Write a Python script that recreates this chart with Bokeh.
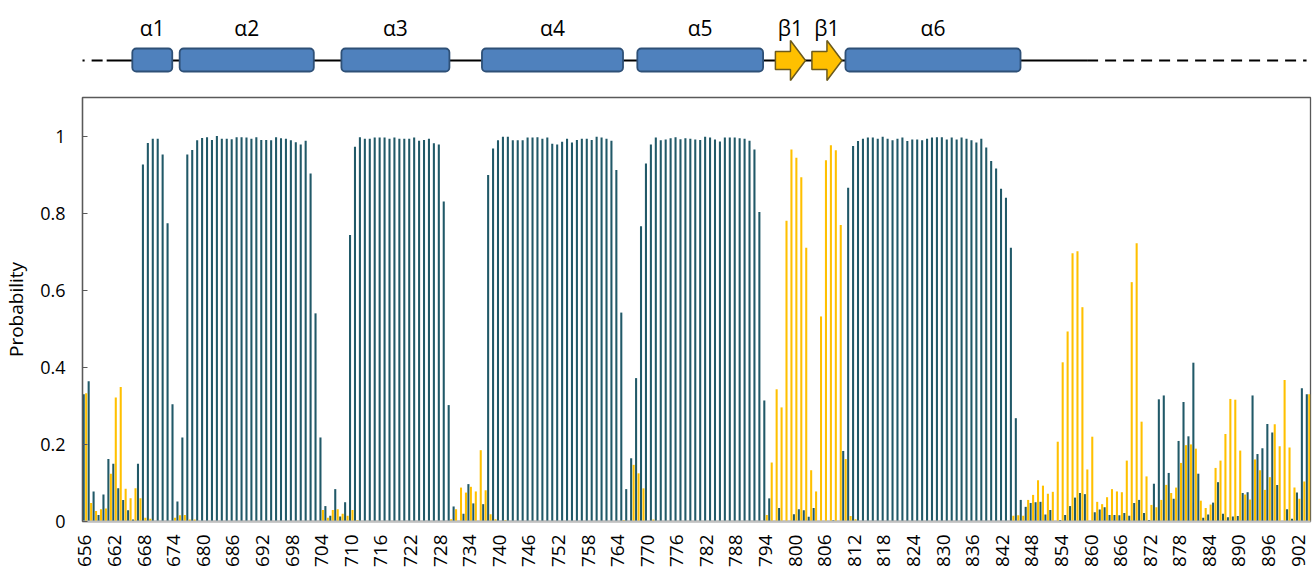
from math import pi
from bokeh.plotting import figure
from bokeh.models import Range1d, FixedTicker, ColumnDataSource
from bokeh.layouts import column
from bokeh.transform import dodge
from bokeh.embed import file_html
from bokeh.resources import INLINE
from bokeh.core.properties import value

# ---------------- data ----------------
residues = list(range(656, 905))

helix = [
    # 656-667
    0.33, 0.364, 0.078, 0.017, 0.07, 0.162, 0.15, 0.086, 0.056, 0.029, 0.005, 0.15,
    # 668-678
    0.926, 0.982, 0.993, 0.993, 0.952, 0.774, 0.304, 0.052, 0.218, 0.952, 0.964,
    # 679-701
    0.989, 0.995, 0.997, 0.99, 1.0, 0.993, 0.993, 0.992, 0.997, 0.997, 0.996, 0.993,
    0.997, 0.99, 0.99, 0.989, 0.997, 0.994, 0.993, 0.989, 0.984, 0.978, 0.988,
    # 702-709
    0.903, 0.54, 0.218, 0.04, 0.015, 0.084, 0.013, 0.05,
    # 710-730
    0.743, 0.972, 0.997, 0.993, 0.993, 0.996, 0.996, 0.996, 0.993, 0.996, 0.993,
    0.993, 0.993, 0.996, 0.988, 0.99, 0.993, 0.981, 0.978, 0.83, 0.302,
    # 731-737
    0.039, 0.0, 0.02, 0.097, 0.047, 0.0, 0.045,
    # 738-765
    0.899, 0.968, 0.989, 0.998, 0.998, 0.989, 0.989, 0.989, 0.996, 0.996, 0.997, 0.993,
    0.996, 0.98, 0.978, 0.985, 0.993, 0.983, 0.99, 0.993, 0.993, 0.99, 0.998, 0.996,
    0.993, 0.988, 0.912, 0.542,
    # 766-771
    0.084, 0.164, 0.372, 0.766, 0.929, 0.978,
    # 772-791
    0.996, 0.989, 0.991, 0.994, 0.997, 0.992, 0.994, 0.993, 0.991, 0.99,
    0.998, 0.996, 0.991, 0.986, 0.996, 0.996, 0.996, 0.994, 0.993, 0.988,
    # 792-810
    0.965, 0.803, 0.314, 0.06, 0.0, 0.035, 0.0, 0.0, 0.019, 0.032, 0.029, 0.012,
    0.035, 0.0, 0.0, 0.0, 0.003, 0.0, 0.183,
    # 811-845
    0.866, 0.974, 0.987, 0.993, 0.996, 0.996, 0.993, 0.998, 0.993, 0.989, 0.993, 0.996,
    0.987, 0.991, 0.991, 0.989, 0.993, 0.996, 0.997, 0.997, 0.991, 0.996, 0.991, 0.996,
    0.993, 0.989, 0.983, 0.993, 0.97, 0.935, 0.916, 0.863, 0.84, 0.71, 0.268,
    # 846-904
    0.056, 0.038, 0.048, 0.05, 0.051, 0.018, 0.03, 0.0, 0.004, 0.017, 0.04, 0.062,
    0.074, 0.071, 0.0, 0.024, 0.031, 0.037, 0.017, 0.017, 0.016, 0.022, 0.015, 0.048,
    0.056, 0.022, 0.004, 0.098, 0.317, 0.327, 0.126, 0.059, 0.209, 0.31, 0.221, 0.412,
    0.124, 0.01, 0.018, 0.049, 0.102, 0.02, 0.011, 0.013, 0.014, 0.074, 0.076, 0.327,
    0.175, 0.19, 0.253, 0.231, 0.095, 0.0, 0.032, 0.007, 0.075, 0.346, 0.33,
]

strand = [
    # 656-667
    0.333, 0.048, 0.027, 0.032, 0.034, 0.124, 0.322, 0.349, 0.085, 0.06, 0.086, 0.06,
    # 668-678
    0.01, 0.007, 0.0, 0.0, 0.0, 0.0, 0.01, 0.016, 0.017, 0.005, 0.005,
    # 679-701
    0.0, 0.0, 0.0, 0.0, 0.0, 0.0, 0.0, 0.0, 0.0, 0.0, 0.0, 0.0,
    0.0, 0.0, 0.0, 0.0, 0.0, 0.0, 0.0, 0.0, 0.0, 0.0, 0.0,
    # 702-709
    0.0, 0.0, 0.03, 0.01, 0.03, 0.032, 0.02, 0.015,
    # 710-730
    0.03, 0.003, 0.0, 0.0, 0.0, 0.0, 0.0, 0.0, 0.0, 0.0, 0.0,
    0.0, 0.0, 0.0, 0.0, 0.0, 0.0, 0.0, 0.0, 0.0, 0.006,
    # 731-737
    0.032, 0.088, 0.075, 0.09, 0.078, 0.185, 0.081,
    # 738-765
    0.019, 0.006, 0.0, 0.003, 0.0, 0.0, 0.0, 0.0, 0.0, 0.0, 0.0, 0.0,
    0.0, 0.0, 0.0, 0.0, 0.0, 0.0, 0.0, 0.0, 0.0, 0.0, 0.0, 0.0,
    0.0, 0.0, 0.0, 0.003,
    # 766-771
    0.0, 0.147, 0.125, 0.086, 0.0, 0.005,
    # 772-791
    0.0, 0.0, 0.0, 0.0, 0.0, 0.0, 0.0, 0.0, 0.0, 0.0,
    0.0, 0.0, 0.0, 0.0, 0.0, 0.0, 0.0, 0.0, 0.0, 0.0,
    # 792-810
    0.0, 0.0, 0.017, 0.153, 0.343, 0.296, 0.78, 0.965, 0.944, 0.893, 0.71, 0.133,
    0.078, 0.532, 0.937, 0.976, 0.963, 0.769, 0.162,
    # 811-845
    0.014, 0.006, 0.0, 0.0, 0.0, 0.0, 0.0, 0.0, 0.0, 0.0, 0.0, 0.0,
    0.0, 0.0, 0.0, 0.0, 0.0, 0.0, 0.0, 0.0, 0.0, 0.0, 0.0, 0.0,
    0.0, 0.0, 0.0, 0.0, 0.0, 0.0, 0.0, 0.0, 0.0, 0.015, 0.016,
    # 846-904
    0.015, 0.056, 0.069, 0.107, 0.093, 0.072, 0.077, 0.207, 0.413, 0.493, 0.696, 0.701,
    0.556, 0.135, 0.22, 0.051, 0.045, 0.063, 0.084, 0.078, 0.076, 0.158, 0.621, 0.722,
    0.259, 0.117, 0.043, 0.037, 0.056, 0.095, 0.074, 0.088, 0.152, 0.198, 0.2, 0.189,
    0.054, 0.035, 0.044, 0.139, 0.158, 0.227, 0.318, 0.316, 0.184, 0.07, 0.057, 0.161,
    0.133, 0.082, 0.115, 0.252, 0.195, 0.367, 0.192, 0.088, 0.059, 0.104, 0.33,
]

assert len(helix) == len(residues) and len(strand) == len(residues)

x_ticks = list(range(656, 903, 6))
y_ticks = [0, 0.2, 0.4, 0.6, 0.8, 1]
y_tick_labels = {0: "0", 0.2: "0.2", 0.4: "0.4", 0.6: "0.6", 0.8: "0.8", 1: "1"}

# secondary-structure topology (residue coordinates)
helix_names = ["α1", "α2", "α3", "α4", "α5", "α6"]
helix_starts = [665.6, 675.2, 708.0, 736.5, 768.0, 810.2]
helix_ends = [673.7, 702.4, 729.9, 765.1, 793.5, 845.7]
strand_names = ["β1", "β1"]
strand_starts = [796.0, 803.4]
strand_ends = [802.1, 809.5]
loop_solid = [(660.4, 859.2)]
loop_dashed = [(653.7, 660.4), (859.2, 903.7)]

# ---------------- style / layout ----------------
DARK = "#215968"
GOLD = "#FFC000"
FONT = "Open Sans"
W = 1313
LEFT, RIGHT = 82, 3
TOP_H, BOT_H = 90, 481
X0, X1 = 655.5, 904.5

# ---------------- main bar chart ----------------
src = ColumnDataSource(dict(res=residues, helix=helix, strand=strand))

p = figure(width=W, height=BOT_H, x_range=Range1d(X0, X1), y_range=Range1d(0, 1.1),
           output_backend="svg", toolbar_location=None,
           min_border_left=LEFT, min_border_right=RIGHT,
           min_border_top=7, min_border_bottom=50)
p.vbar(x=dodge("res", -0.25, range=p.x_range), top="helix", width=0.42,
       source=src, fill_color=DARK, line_color=None)
p.vbar(x=dodge("res", 0.25, range=p.x_range), top="strand", width=0.42,
       source=src, fill_color=GOLD, line_color=None)

p.xgrid.visible = False
p.ygrid.visible = False
p.outline_line_color = "#595959"
p.outline_line_width = 1.3
p.background_fill_color = "white"
p.border_fill_color = "white"

xa = p.xaxis[0]
xa.ticker = FixedTicker(ticks=x_ticks)
xa.major_label_orientation = pi / 2
xa.major_tick_line_color = None
xa.minor_tick_line_color = None
xa.axis_line_color = "#BFBFBF"
xa.axis_line_width = 2
xa.major_label_text_font = FONT
xa.major_label_text_font_size = "19px"
xa.major_label_text_color = "black"
xa.major_label_standoff = 7

ya = p.yaxis[0]
ya.ticker = FixedTicker(ticks=y_ticks)
ya.major_label_overrides = y_tick_labels
ya.major_tick_in = 5
ya.major_tick_out = 0
ya.major_tick_line_color = "#595959"
ya.minor_tick_line_color = None
ya.axis_line_color = "#595959"
ya.axis_line_width = 1.3
ya.major_label_text_font = FONT
ya.major_label_text_font_size = "18px"
ya.major_label_text_color = "black"
ya.major_label_standoff = 17
ya.axis_label = "Probability"
ya.axis_label_text_font = FONT
ya.axis_label_text_font_size = "19px"
ya.axis_label_text_font_style = "normal"
ya.axis_label_text_color = "black"
ya.axis_label_standoff = 8

# ---------------- topology strip (frame aligned with the chart below) ----------------
t = figure(width=W, height=TOP_H, x_range=p.x_range, y_range=Range1d(TOP_H, 0),
           output_backend="svg", toolbar_location=None,
           x_axis_location=None, y_axis_location=None,
           min_border_left=LEFT, min_border_right=RIGHT, min_border_top=0, min_border_bottom=0,
           outline_line_color=None)
t.xgrid.visible = False
t.ygrid.visible = False

LINE_Y = 60
t.segment(x0=[a for a, b in loop_solid], x1=[b for a, b in loop_solid],
          y0=LINE_Y, y1=LINE_Y, line_color="black", line_width=1.8)
t.segment(x0=[a for a, b in loop_dashed], x1=[b for a, b in loop_dashed],
          y0=LINE_Y, y1=LINE_Y, line_color="black", line_width=2, line_dash="11 7")

t.quad(left=helix_starts, right=helix_ends, top=48, bottom=71,
       fill_color="#4F81BD", line_color="#2E5077", line_width=1.8, border_radius=4)

axs, ays = [], []
for s, e in zip(strand_starts, strand_ends):
    m = s + 0.5 * (e - s)
    axs.append([s, m, m, e, m, m, s])
    ays.append([51, 51, 40, LINE_Y, 80, 69, 69])
t.patches(xs=axs, ys=ays, fill_color=GOLD, line_color="#6B5A1E", line_width=1.5)

lab_x = [(a + b) / 2 for a, b in zip(helix_starts, helix_ends)] + \
        [(a + b) / 2 for a, b in zip(strand_starts, strand_ends)]
t.text(x=lab_x, y=27, text=helix_names + strand_names, text_align="center",
       text_baseline="middle", text_font=value(FONT), text_font_size="21px",
       text_color="black")

layout = column(t, p, spacing=0)
open("out.html", "w").write(file_html(layout, INLINE))
